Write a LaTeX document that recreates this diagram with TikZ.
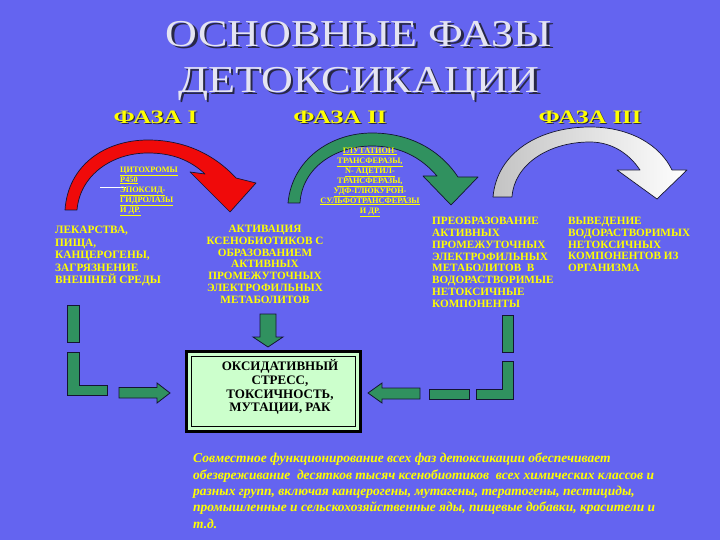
\documentclass[tikz,border=0pt]{standalone}
\usepackage{fontspec}
\setmainfont{Liberation Serif}
\definecolor{bg}{RGB}{100,100,240}
\definecolor{ttl}{RGB}{228,228,242}
\definecolor{ttlsh}{RGB}{40,40,70}
\definecolor{ylw}{RGB}{255,255,0}
\definecolor{grn}{RGB}{48,145,95}
\definecolor{boxfill}{RGB}{204,255,204}
\definecolor{edge}{RGB}{20,20,50}
\definecolor{redarr}{RGB}{240,10,10}
\definecolor{greyarr}{RGB}{195,195,195}
\tikzset{
  titletxt/.style={inner sep=0pt, anchor=base, text=ttl, font=\fontsize{38}{40}\selectfont},
  phasetxt/.style={inner sep=0pt, anchor=base, text=ylw, font=\bfseries\fontsize{19}{20}\selectfont},
  enzyme/.style={inner sep=0pt, text=ylw, font=\bfseries\fontsize{8.3}{10}\selectfont},
  body/.style={inner sep=0pt, text=ylw, font=\bfseries\fontsize{11.2}{11.8}\selectfont},
  boxtxt/.style={inner sep=0pt, text=black, align=center, font=\bfseries\fontsize{13}{13.8}\selectfont},
  note/.style={inner sep=0pt, text=ylw, align=left, font=\bfseries\itshape\fontsize{13.5}{16.3}\selectfont},
  curvearr/.style={draw=edge, line width=0.7pt, line join=round},
  blockarr/.style={fill=grn, draw=edge, line width=0.8pt},
}
\newcommand{\hstretch}[2]{\scalebox{#1}[1]{#2}}
\newcommand{\shadowed}[3]{\rlap{\textcolor{#1}{\raisebox{-#2}{\kern#2 #3}}}#3}
\begin{document}
\begin{tikzpicture}[x=1pt,y=-1pt]
\fill[bg] (0,0) rectangle (720,540);
\useasboundingbox (0,0) rectangle (720,540);

% title
\node[titletxt] (t1) at (359,47) {\hstretch{1.16}{\shadowed{ttlsh}{2pt}{ОСНОВНЫЕ ФАЗЫ}}};
\node[titletxt] (t2) at (359,93) {\hstretch{1.16}{\shadowed{ttlsh}{2pt}{ДЕТОКСИКАЦИИ}}};

% phase headers
\node[phasetxt] (p1) at (155.5,124) {\hstretch{1.3}{\shadowed{ttlsh}{0.9pt}{ФАЗА I}}};
\node[phasetxt] (p2) at (340,124) {\hstretch{1.3}{\shadowed{ttlsh}{0.9pt}{ФАЗА II}}};
\node[phasetxt] (p3) at (590,124) {\hstretch{1.3}{\shadowed{ttlsh}{0.9pt}{ФАЗА III}}};

% red curved arrow (phase I)
\draw[curvearr, fill=redarr] (65,210) .. controls (68,165) and (105,140) .. (148,140)
  .. controls (185,140) and (215,155) .. (236,178) -- (256,183) -- (230,212) -- (190,172) -- (205,174)
  .. controls (190,160) and (172,153) .. (148,153) .. controls (112,153) and (80,175) .. (77,210) -- cycle;

% green curved arrow (phase II)
\draw[curvearr, fill=grn] (288,203) .. controls (292,160) and (330,133) .. (372,133)
  .. controls (410,133) and (440,150) .. (458,177) -- (478,177) -- (451,205) -- (423,176) -- (437,176)
  .. controls (420,156) and (398,146) .. (372,146) .. controls (335,146) and (302,168) .. (300,203) -- cycle;

% grey-white curved arrow (phase III)
\draw[curvearr, left color=greyarr, right color=white] (493,197) .. controls (497,152) and (540,127) .. (590,127)
  .. controls (630,127) and (660,145) .. (672,170) -- (687,170) -- (657,199) -- (617,170) -- (640,170)
  .. controls (628,152) and (610,142) .. (590,142) .. controls (548,142) and (514,165) .. (512,197) -- cycle;

% enzyme labels
\draw[white, line width=0.8pt] (100,187) -- (126,187);
\node[enzyme, anchor=north west, align=left] (enz1) at (120,166.5)
  {\underline{ЦИТОХРОМЫ}\\ \underline{Р450}\\ \underline{ЭПОКСИД-}\\ \underline{ГИДРОЛАЗЫ}\\ \underline{И ДР.}};
\node[enzyme, anchor=north, align=center] (enz2) at (370,147.5)
  {\underline{ГЛУТАТИОН-}\\ \underline{ТРАНСФЕРАЗЫ,}\\ \underline{N- АЦЕТИЛ-}\\ \underline{ТРАНСФЕРАЗЫ,}\\ \underline{УДФ-ГЛЮКУРОН-}\\ \underline{СУЛЬФОТРАНСФЕРАЗЫ}\\ \underline{И ДР.}};

% body texts
\node[body, anchor=north west, align=left, font=\bfseries\fontsize{11.3}{12.5}\selectfont] (src) at (55,226)
  {ЛЕКАРСТВА,\\ ПИЩА,\\ КАНЦЕРОГЕНЫ,\\ ЗАГРЯЗНЕНИЕ\\ ВНЕШНЕЙ СРЕДЫ};
\node[body, anchor=north, align=center] (act) at (265,225)
  {АКТИВАЦИЯ\\ КСЕНОБИОТИКОВ С\\ ОБРАЗОВАНИЕМ\\ АКТИВНЫХ\\ ПРОМЕЖУТОЧНЫХ\\ ЭЛЕКТРОФИЛЬНЫХ\\ МЕТАБОЛИТОВ};
\node[body, anchor=north west, align=left] (conv) at (432,217)
  {ПРЕОБРАЗОВАНИЕ\\ АКТИВНЫХ\\ ПРОМЕЖУТОЧНЫХ\\ ЭЛЕКТРОФИЛЬНЫХ\\ МЕТАБОЛИТОВ \ В\\ ВОДОРАСТВОРИМЫЕ\\ НЕТОКСИЧНЫЕ\\ КОМПОНЕНТЫ};
\node[body, anchor=north west, align=left] (excr) at (568,217)
  {ВЫВЕДЕНИЕ\\ ВОДОРАСТВОРИМЫХ\\ НЕТОКСИЧНЫХ\\ КОМПОНЕНТОВ ИЗ\\ ОРГАНИЗМА};

% central box
\draw[black, line width=3pt, fill=boxfill] (186,351) rectangle (360,431);
\draw[black, line width=0.8pt] (191,356) rectangle (355,426);
\node[boxtxt] (stress) at (280,387)
  {ОКСИДАТИВНЫЙ\\ СТРЕСС,\\ ТОКСИЧНОСТЬ,\\ МУТАЦИИ, РАК};

% block arrows
\draw[blockarr] (260,314) -- (276,314) -- (276,337) -- (283,337) -- (268,347) -- (253,337) -- (260,337) -- cycle;
\draw[blockarr] (67,305) rectangle (79,342);
\draw[blockarr] (67,352) -- (79,352) -- (79,385) -- (107,385) -- (107,395) -- (67,395) -- cycle;
\draw[blockarr] (119,387.5) -- (157,387.5) -- (157,383) -- (170,393) -- (157,403) -- (157,398) -- (119,398) -- cycle;
\draw[blockarr] (502,315) rectangle (513,352);
\draw[blockarr] (502,361) -- (513,361) -- (513,399) -- (476,399) -- (476,389) -- (502,389) -- cycle;
\draw[blockarr] (429,389) rectangle (469,399);
\draw[blockarr] (368,393) -- (382,383) -- (382,388) -- (420,388) -- (420,399) -- (382,399) -- (382,403) -- cycle;

% bottom note
\node[note, anchor=north west] (summary) at (193,453)
  {Совместное функционирование всех фаз детоксикации обеспечивает\\
   обезвреживание \ десятков тысяч ксенобиотиков \ всех химических классов и\\
   разных групп, включая канцерогены, мутагены, тератогены, пестициды,\\
   промышленные и сельскохозяйственные яды, пищевые добавки, красители и\\
   т.д.};
\end{tikzpicture}
\end{document}
